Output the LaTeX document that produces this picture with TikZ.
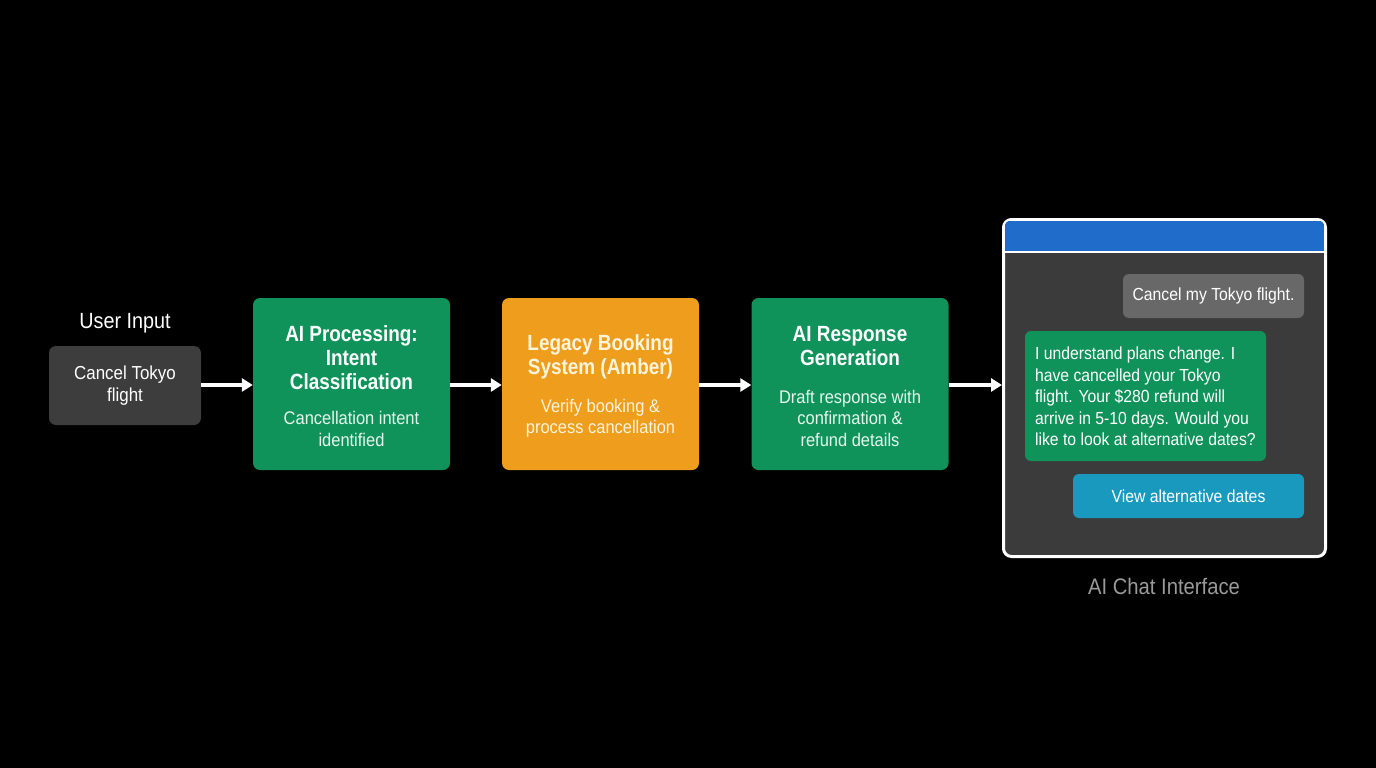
\documentclass[tikz,border=0pt]{standalone}
\usepackage{fontspec}
\setmainfont{Liberation Sans}[FakeStretch=0.9, BoldFeatures={FakeStretch=0.86}]
\usetikzlibrary{arrows.meta}
\definecolor{bg}{HTML}{000000}
\definecolor{darkbox}{HTML}{3D3D3D}
\definecolor{aigreen}{HTML}{10935A}
\definecolor{amber}{HTML}{EE9D1C}
\definecolor{amberText}{HTML}{FFF4DC}
\definecolor{greenText}{HTML}{E6F7EE}
\definecolor{chatbg}{HTML}{3B3B3B}
\definecolor{chathead}{HTML}{1F6CCB}
\definecolor{userbub}{HTML}{686868}
\definecolor{teal}{HTML}{1A99BF}
\definecolor{caption}{HTML}{9A9A9A}
\tikzset{
  procbox/.style={rounded corners=7pt, minimum width=197pt, minimum height=172pt, inner sep=0pt},
  flowarrow/.style={draw=white, line width=3.5pt, -{Triangle[length=11pt,width=13pt]}},
  ttl/.style={font=\fontsize{22}{24}\selectfont\bfseries, align=center},
  sub/.style={font=\fontsize{18.3}{21.5}\selectfont, align=center},
  chattxt/.style={font=\fontsize{17.5}{21.5}\selectfont},
}
\begin{document}
\begin{tikzpicture}[x=1pt,y=-1pt]
\fill[bg] (0,0) rectangle (1376,768);
\useasboundingbox (0,0) rectangle (1376,768);

% user input
\node[text=white, font=\fontsize{22}{24}\selectfont] (ulabel) at (125,323.5) {User Input};
\node[fill=darkbox, rounded corners=7pt, minimum width=152pt, minimum height=79pt, inner sep=0pt,
      text=white, font=\fontsize{18.8}{22}\selectfont, align=center] (user) at (125,385.5) {Cancel Tokyo\\flight};

% process boxes
\node[procbox, fill=aigreen] (ai1) at (351.5,384) {};
\node[ttl, text=white] (ai1t) at (351.5,358) {AI Processing:\\Intent\\Classification};
\node[sub, text=greenText] (ai1s) at (351.5,429) {Cancellation intent\\identified};

\node[procbox, fill=amber] (leg) at (600.5,384) {};
\node[ttl, text=amberText] (legt) at (600.5,357) {Legacy Booking\\System (Amber)};
\node[sub, text=amberText] (legs) at (600.5,418.5) {Verify booking \&\\process cancellation};

\node[procbox, fill=aigreen] (ai2) at (850,384) {};
\node[ttl, text=white] (ai2t) at (850,346) {AI Response\\Generation};
\node[sub, text=greenText] (ai2s) at (850,418) {Draft response with\\confirmation \&\\refund details};

% chat window
\node[draw=white, line width=3pt, fill=chatbg, rounded corners=8pt, minimum width=322pt, minimum height=337pt, inner sep=0pt] (chat) at (1164.5,388) {};
\begin{scope}
  \clip[rounded corners=6.5pt] (1004.5,220.5) rectangle (1324.5,555.5);
  \fill[chathead] (1004.5,220.5) rectangle (1324.5,251);
\end{scope}
\draw[white, line width=2.5pt] (1004.5,252) -- (1324.5,252);

\node[fill=userbub, rounded corners=6pt, minimum width=181pt, minimum height=44pt, inner sep=0pt,
      text=white, chattxt] (bub1) at (1213.5,296) {Cancel my Tokyo flight.};
\node[fill=aigreen, rounded corners=6pt, minimum width=241pt, minimum height=130pt, inner sep=0pt] (bub2) at (1145.5,396) {};
\node[anchor=west, text=white, chattxt, align=left] (bub2t) at (1031.5,396.5)
  {I understand plans change. I\\have cancelled your Tokyo\\flight. Your \$280 refund will\\arrive in 5-10 days. Would you\\like to look at alternative dates?};
\node[fill=teal, rounded corners=6pt, minimum width=231pt, minimum height=44pt, inner sep=0pt,
      text=white, chattxt] (btn) at (1188.5,496) {View alternative dates};
\node[text=caption, font=\fontsize{22.5}{24}\selectfont] (cap) at (1164,586) {AI Chat Interface};

% arrows
\coordinate (ay) at (0,385);
\draw[flowarrow] (user.east |- ay) -- (ai1.west |- ay);
\draw[flowarrow] (ai1.east |- ay) -- (leg.west |- ay);
\draw[flowarrow] (leg.east |- ay) -- (ai2.west |- ay);
\draw[flowarrow] (ai2.east |- ay) -- (chat.west |- ay);
\end{tikzpicture}
\end{document}
